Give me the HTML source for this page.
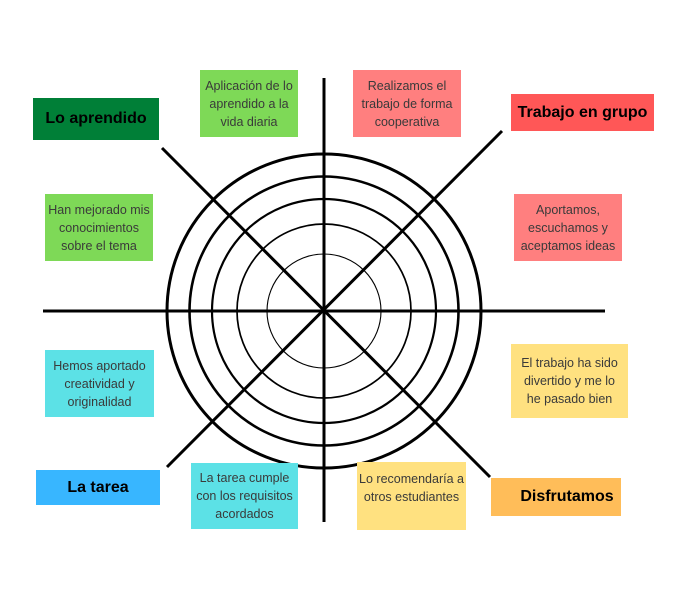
<!DOCTYPE html>
<html><head><meta charset="utf-8"><style>
body{margin:0;width:698px;height:592px;background:#fff;position:relative;overflow:hidden;font-family:"Liberation Sans",sans-serif}
.b{position:absolute;display:flex;align-items:center;justify-content:center;text-align:center;font-size:12.5px;line-height:18px;color:#3a3a3a;white-space:nowrap}
.t{font-weight:bold;font-size:16px;color:#000}
svg{position:absolute;left:0;top:0}
</style></head><body>
<svg width="698" height="592">
<g fill="none" stroke="#000">
<circle cx="324" cy="311" r="157" stroke-width="3"/>
<circle cx="324" cy="311" r="134.5" stroke-width="2.6"/>
<circle cx="324" cy="311" r="112" stroke-width="2.2"/>
<circle cx="324" cy="311" r="87" stroke-width="1.7"/>
<circle cx="324" cy="311" r="57" stroke-width="1.1"/>
<g stroke-width="3">
<line x1="324" y1="78" x2="324" y2="522"/>
<line x1="43" y1="311" x2="605" y2="311"/>
<line x1="162" y1="148" x2="490" y2="477"/>
<line x1="502" y1="131" x2="167" y2="467"/>
</g></g></svg>
<div class="b t" style="left:33px;top:98px;width:126px;height:42px;background:#007f37">Lo aprendido</div>
<div class="b" style="left:200px;top:70px;width:98px;height:67px;background:#7ed957">Aplicación de lo<br>aprendido a la<br>vida diaria</div>
<div class="b" style="left:45px;top:194px;width:108px;height:67px;background:#7ed957">Han mejorado mis<br>conocimientos<br>sobre el tema</div>
<div class="b" style="left:353px;top:70px;width:108px;height:67px;background:#ff7f7f">Realizamos el<br>trabajo de forma<br>cooperativa</div>
<div class="b t" style="left:511px;top:94px;width:143px;height:37px;background:#ff5757">Trabajo en grupo</div>
<div class="b" style="left:514px;top:194px;width:108px;height:67px;background:#ff7f7f">Aportamos,<br>escuchamos y<br>aceptamos ideas</div>
<div class="b" style="left:511px;top:344px;width:117px;height:74px;background:#ffe180">El trabajo ha sido<br>divertido y me lo<br>he pasado bien</div>
<div class="b" style="left:45px;top:350px;width:109px;height:67px;background:#5ce1e6">Hemos aportado<br>creatividad y<br>originalidad</div>
<div class="b t" style="left:36px;top:470px;width:124px;height:35px;background:#38b6ff">La tarea</div>
<div class="b" style="left:191px;top:463px;width:107px;height:66px;background:#5ce1e6">La tarea cumple<br>con los requisitos<br>acordados</div>
<div class="b" style="left:357px;top:462px;width:109px;height:68px;background:#ffe180;align-items:flex-start;padding-top:8px;box-sizing:border-box">Lo recomendaría a<br>otros estudiantes</div>
<div class="b t" style="left:491px;top:478px;width:130px;height:38px;background:#ffbd59;padding-left:22px;box-sizing:border-box">Disfrutamos</div>
</body></html>
